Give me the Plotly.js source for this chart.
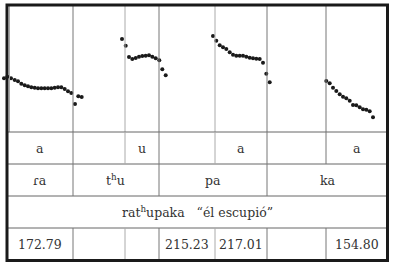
<!DOCTYPE html>
<html>
<head>
<meta charset="utf-8">
<script src="https://cdn.plot.ly/plotly-3.0.1.min.js"></script>
<style>html,body{margin:0;padding:0;background:#fff;}#chart{width:393px;height:265px;}</style>
</head>
<body>
<div id="chart"></div>
<script>
// Pitch trace (time position, F0 in Hz)
const seg1Time = [4,7.3,11,14.7,18,21.3,24.7,28,31.3,34.7,38,41.3,44.7,48,51.3,54.7,58,61.3,64.7,68,71.3,75,78.3,81.7];
const seg1F0   = [186.5,189,186.5,184,182,178.5,176,174.5,173,172.5,171.5,171.5,171.5,171.5,171.5,172.5,173,173,170.5,167,164.5,148,159.5,158.5];
const seg2Time = [122,125.7,129,132.3,135.7,139,142.3,145.7,149,152.3,155.7,159.3,162.3,165.7];
const seg2F0   = [245.5,235.5,218.5,215.5,217,219,220,220.5,221,219,216.5,213.5,200,191];
const seg3Time = [213,216.3,219.7,223,226.3,229.7,233,236.3,239.7,243,246.3,249.7,253,256.3,259.7,263,266.3,269.7];
const seg3F0   = [250,243,236,233,230.5,225.5,222,220.5,220.5,220.5,219,217.5,216.5,216,215.5,210,193.5,180.5];
const seg4Time = [326.3,329.7,333,336.3,339.7,343,346.3,349.7,353,356.3,359.7,363,366.3,369.7,373];
const seg4F0   = [182.5,179,172.5,167.5,162.5,159,156.5,153,146.5,146,143,140,139.5,137,128];

// Table texts
const vowelLabels = ["a","","u","","a","","a"];
const syllableLabels = ["\u027ea","t<sup>h</sup>u","pa","ka"];
const glossLabel = "rat<sup>h</sup>upaka   \u201c\u00e9l escupi\u00f3\u201d";
const meanF0Labels = ["172.79","","","215.23","217.01","","154.80"];

// ---- layout geometry (pixels) ----
const W = 393, H = 265;
const px = x => x / W;                 // pixel x -> paper
const py = y => (132 - y) / 128;       // pixel y -> paper (plot spans y 4..132)
const fineCols = [7,73,125,159,215,267,326,388];
const sylCols = [7,73,159,267,388];
const rowY = [132,164,196,228,260.5];

const shapes = [];
function line(x0,y0,x1,y1,color,width){
  shapes.push({type:'line',xref:'paper',yref:'paper',x0:px(x0),x1:px(x1),y0:py(y0),y1:py(y1),
    line:{color:color,width:width},layer:'above'});
}
const lightCols = {125:true,215:true};
line(9.5,6,9.5,132,'#aaa',1);
[73,125,159,215,267,326].forEach(x=>line(x,6,x,132,lightCols[x]?'#aaa':'#777',1));
[132,164,196,228].forEach(y=>line(7,y,388,y,'#666',1));
[73,125,159,215,267,326].forEach(x=>{
  line(x,132,x,164,lightCols[x]?'#aaa':'#777',1);
  line(x,228,x,260,lightCols[x]?'#aaa':'#777',1);
});
[73,159,267].forEach(x=>line(x,164,x,196,'#777',1));
shapes.push({type:'rect',xref:'paper',yref:'paper',x0:px(7),x1:px(387.5),y0:py(5),y1:py(260.5),
  line:{color:'#1a1a1a',width:3},layer:'above'});

const annotations = [];
const FAMILY = 'DejaVu Serif';
const font = {family:FAMILY,size:12.5,color:'#333'};
function cellText(txt,x0,x1,y0,y1){
  if(!txt) return;
  annotations.push({text:txt,xref:'paper',yref:'paper',x:px((x0+x1)/2),y:py((y0+y1)/2),
    xanchor:'center',yanchor:'middle',showarrow:false,font:font});
}
vowelLabels.forEach((t,i)=>cellText(t,fineCols[i],fineCols[i+1],rowY[0],rowY[1]));
syllableLabels.forEach((t,i)=>cellText(t,sylCols[i],sylCols[i+1],rowY[1],rowY[2]));
cellText(glossLabel,7,388,rowY[2],rowY[3]);
meanF0Labels.forEach((t,i)=>cellText(t,fineCols[i],fineCols[i+1],rowY[3],rowY[4]));

const mk = {color:'#1a1a1a',size:4};
const traces = [[seg1Time,seg1F0],[seg2Time,seg2F0],[seg3Time,seg3F0],[seg4Time,seg4F0]].map(s=>({
  x:s[0],y:s[1],type:'scatter',mode:'markers',marker:mk,hoverinfo:'skip',cliponaxis:false
}));

Plotly.newPlot('chart',traces,{
  width:W,height:H,
  margin:{l:0,r:0,t:4,b:133,pad:0},
  paper_bgcolor:'#fff',plot_bgcolor:'#fff',
  showlegend:false,
  font:{family:FAMILY},
  xaxis:{range:[0,W],visible:false,fixedrange:true},
  yaxis:{range:[106,298],visible:false,fixedrange:true},
  shapes:shapes,annotations:annotations
},{displayModeBar:false,staticPlot:true});
</script>
</body>
</html>
